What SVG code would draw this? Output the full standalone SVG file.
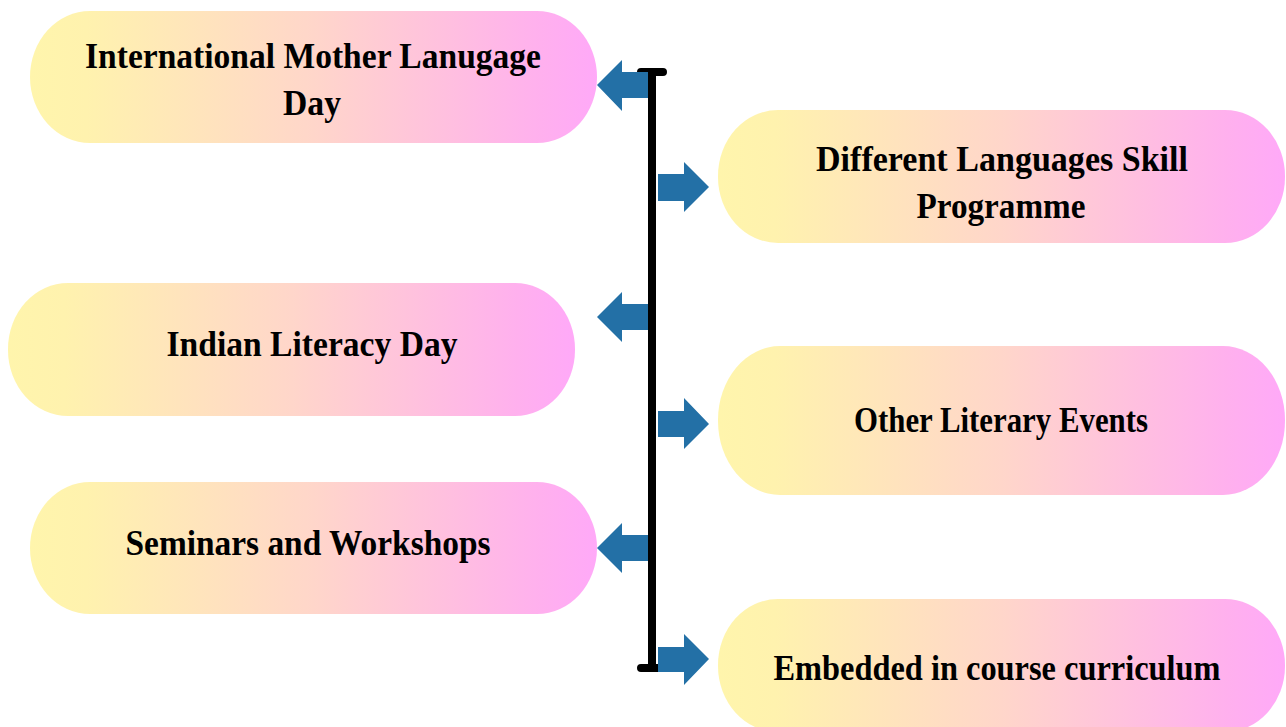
<svg xmlns="http://www.w3.org/2000/svg" width="1286" height="727" viewBox="0 0 1286 727">
  <defs>
    <linearGradient id="fillGrad" x1="0" y1="0" x2="1" y2="0">
      <stop offset="0" stop-color="#FFF5AC"/>
      <stop offset="0.1" stop-color="#FFF2AE"/>
      <stop offset="0.5" stop-color="#FFD6CA"/>
      <stop offset="0.9" stop-color="#FFB0EE"/>
      <stop offset="1" stop-color="#FFA9F8"/>
    </linearGradient>
  </defs>
  <style>
    .node { fill: url(#fillGrad); }
    .lbl { font-family: "Liberation Serif", "Times New Roman", serif; font-weight: bold; font-size: 35px; fill: #000; text-anchor: middle; }
    .arrow { fill: #2370A6; }
    .bracket { fill: none; stroke: #000; stroke-width: 8; stroke-linecap: round; }
  </style>
  <rect width="1286" height="727" fill="#FFFFFF"/>

  <g id="connectors">
    <path class="bracket" d="M641 72 H663 M652 72 V668 M641 668 H663"/>
    <polygon class="arrow" points="597,85 622,60 622,72 648,72 648,98 622,98 622,111"/>
    <polygon class="arrow" points="597,317 622,292 622,304 648,304 648,330 622,330 622,342"/>
    <polygon class="arrow" points="597,548 622,523 622,535 648,535 648,561 622,561 622,573"/>
    <polygon class="arrow" points="709,187 684,162 684,174 658,174 658,201 684,201 684,212"/>
    <polygon class="arrow" points="709,424 684,398 684,411 658,411 658,437 684,437 684,449"/>
    <polygon class="arrow" points="709,659 684,634 684,647 658,647 658,672 684,672 684,685"/>
  </g>

  <g id="node-mother-language-day">
    <rect class="node" x="30" y="11" width="567" height="132" rx="60" ry="66"/>
    <text class="lbl" x="313" y="68" textLength="456" lengthAdjust="spacingAndGlyphs">International Mother Lanugage</text>
    <text class="lbl" x="312" y="115" textLength="58" lengthAdjust="spacingAndGlyphs">Day</text>
  </g>

  <g id="node-languages-skill">
    <rect class="node" x="718" y="110" width="567" height="133" rx="60" ry="66"/>
    <text class="lbl" x="1002" y="171" textLength="372" lengthAdjust="spacingAndGlyphs">Different Languages Skill</text>
    <text class="lbl" x="1001" y="218" textLength="169" lengthAdjust="spacingAndGlyphs">Programme</text>
  </g>

  <g id="node-literacy-day">
    <rect class="node" x="8" y="283" width="567" height="133" rx="60" ry="66"/>
    <text class="lbl" x="312" y="356" textLength="291" lengthAdjust="spacingAndGlyphs">Indian Literacy Day</text>
  </g>

  <g id="node-literary-events">
    <rect class="node" x="718" y="346" width="567" height="149" rx="62" ry="74"/>
    <text class="lbl" x="1001" y="432" font-size="33" textLength="294" lengthAdjust="spacingAndGlyphs">Other Literary Events</text>
  </g>

  <g id="node-seminars">
    <rect class="node" x="30" y="482" width="567" height="132" rx="60" ry="66"/>
    <text class="lbl" x="308" y="555" textLength="365" lengthAdjust="spacingAndGlyphs">Seminars and Workshops</text>
  </g>

  <g id="node-curriculum">
    <rect class="node" x="718" y="599" width="567" height="133" rx="60" ry="66"/>
    <text class="lbl" x="997" y="680" textLength="447" lengthAdjust="spacingAndGlyphs">Embedded in course curriculum</text>
  </g>
</svg>
